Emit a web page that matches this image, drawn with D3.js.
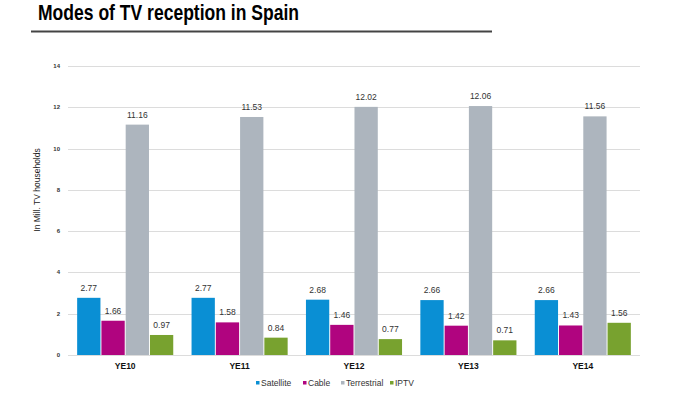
<!DOCTYPE html>
<html><head><meta charset="utf-8">
<script src="https://cdn.jsdelivr.net/npm/d3@7"></script>
<style>body{margin:0;background:#fff;}svg{display:block;font-family:"Liberation Sans",Arial,sans-serif;}</style>
</head><body>
<script>
const categories = ["YE10","YE11","YE12","YE13","YE14"];
const seriesNames = ["Satellite","Cable","Terrestrial","IPTV"];
const satellite = [2.77,2.77,2.68,2.66,2.66];
const cable = [1.66,1.58,1.46,1.42,1.43];
const terrestrial = [11.16,11.53,12.02,12.06,11.56];
const iptv = [0.97,0.84,0.77,0.71,1.56];
const yTicks = [0,2,4,6,8,10,12,14];
const colors = ["#0a8fd4","#b0047f","#adb5be","#78a22f"];
const series = [satellite,cable,terrestrial,iptv];

const W=680,H=394;
const svg=d3.select("body").append("svg").attr("width",W).attr("height",H);

svg.append("text").attr("x",38).attr("y",19.5).attr("font-size",21.5).attr("font-weight","bold")
  .attr("fill","#000").attr("textLength",261).attr("lengthAdjust","spacingAndGlyphs")
  .text("Modes of TV reception in Spain");
svg.append("line").attr("x1",31).attr("x2",492).attr("y1",31.5).attr("y2",31.5)
  .attr("stroke","#444").attr("stroke-width",2);

const x0=d3.scaleBand().domain(categories).range([68,640]).paddingInner(0.16).paddingOuter(0.08);
const x1=d3.scaleBand().domain(seriesNames).range([0,x0.bandwidth()]).paddingInner(0.04);
const y=d3.scaleLinear().domain([0,14]).range([355,66]);

const g=svg.append("g");
g.selectAll("line.grid").data(yTicks).join("line").attr("class","grid")
  .attr("x1",68).attr("x2",640).attr("y1",d=>Math.round(y(d))+0.5).attr("y2",d=>Math.round(y(d))+0.5)
  .attr("stroke","#dcdcdc").attr("stroke-width",1);
g.selectAll("text.yt").data(yTicks).join("text").attr("class","yt")
  .attr("x",60).attr("y",d=>y(d)+2).attr("text-anchor","end").attr("font-size",6).attr("font-weight","bold")
  .attr("fill","#333").text(d=>d);

svg.append("text").attr("transform","translate(40,190) rotate(-90)").attr("text-anchor","middle")
  .attr("font-size",8.5).attr("fill","#222").text("In Mill. TV households");

const rows=categories.map((c,i)=>({c,vals:seriesNames.map((s,j)=>({s,v:series[j][i],col:colors[j]}))}));
const grp=svg.selectAll("g.cat").data(rows).join("g").attr("class","cat")
  .attr("transform",d=>`translate(${x0(d.c)},0)`);
grp.selectAll("rect").data(d=>d.vals).join("rect")
  .attr("x",d=>x1(d.s)).attr("width",x1.bandwidth())
  .attr("y",d=>y(d.v)).attr("height",d=>y(0)-y(d.v)).attr("fill",d=>d.col);
grp.selectAll("text.v").data(d=>d.vals).join("text").attr("class","v")
  .attr("x",d=>x1(d.s)+x1.bandwidth()/2).attr("y",d=>y(d.v)-7).attr("text-anchor","middle")
  .attr("font-size",8.5).attr("fill","#333").text(d=>d.v.toFixed(2));

svg.selectAll("text.xl").data(categories).join("text").attr("class","xl")
  .attr("x",d=>x0(d)+x0.bandwidth()/2).attr("y",369).attr("text-anchor","middle")
  .attr("font-size",8.5).attr("font-weight","bold").attr("fill","#111").text(d=>d);

const legX=[256,303,341,390];
const leg=svg.selectAll("g.leg").data(seriesNames).join("g").attr("class","leg")
  .attr("transform",(d,i)=>`translate(${legX[i]},386)`);
leg.append("rect").attr("x",0).attr("y",-5).attr("width",3.5).attr("height",3.5).attr("fill",(d,i)=>colors[i]);
leg.append("text").attr("x",5).attr("y",0).attr("font-size",8.5).attr("fill","#333").text(d=>d);
</script>
</body></html>
